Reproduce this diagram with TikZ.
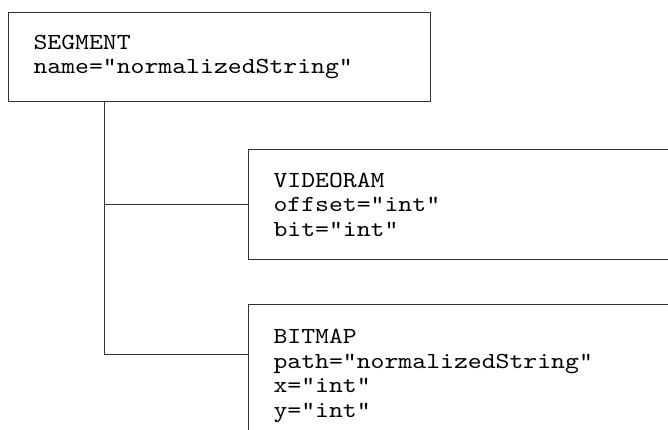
\documentclass[tikz,border=0pt]{standalone}
\usepackage{fontspec}
\setmonofont{lmmono10-regular.otf}[FakeStretch=1.15]
\usetikzlibrary{arrows,shapes}
\tikzstyle{element}=[draw=black!80,line width=1pt,rectangle,anchor=north west,align=left,inner xsep=25pt,inner ysep=0pt,font=\ttfamily\fontsize{23}{24.5}\selectfont]
\tikzstyle{link}=[draw=black!80,line width=1pt,-]

\begin{document}
\begin{tikzpicture}[x=1pt,y=1pt]
    % Fix the page to the picture size, and cut the boxes that run off it
    \useasboundingbox (0,0) rectangle (668,-430);
    \clip (0,0) rectangle (668,-430);

    % The elements
    \node[element,text width=372pt,minimum height=88.4pt] (SEGMENT) at (8,-12.3)
        {SEGMENT\\name="normalizedString"};
    \node[element,text width=450pt,minimum height=109.7pt] (VIDEORAM) at (248,-149.3)
        {VIDEORAM\\offset="int"\\bit="int"};
    \node[element,text width=450pt,minimum height=142pt] (BITMAP) at (248,-304.3)
        {BITMAP\\path="normalizedString"\\x="int"\\y="int"};

    % Connect the children to the parent
    \coordinate (trunk) at ([xshift=96pt]SEGMENT.south west);
    \coordinate (BITMAPin) at ([yshift=-50pt]BITMAP.north west);
    \foreach \dest in {VIDEORAM.west, BITMAPin}
        \path[link] (trunk) |- (\dest);

\end{tikzpicture}
\end{document}
